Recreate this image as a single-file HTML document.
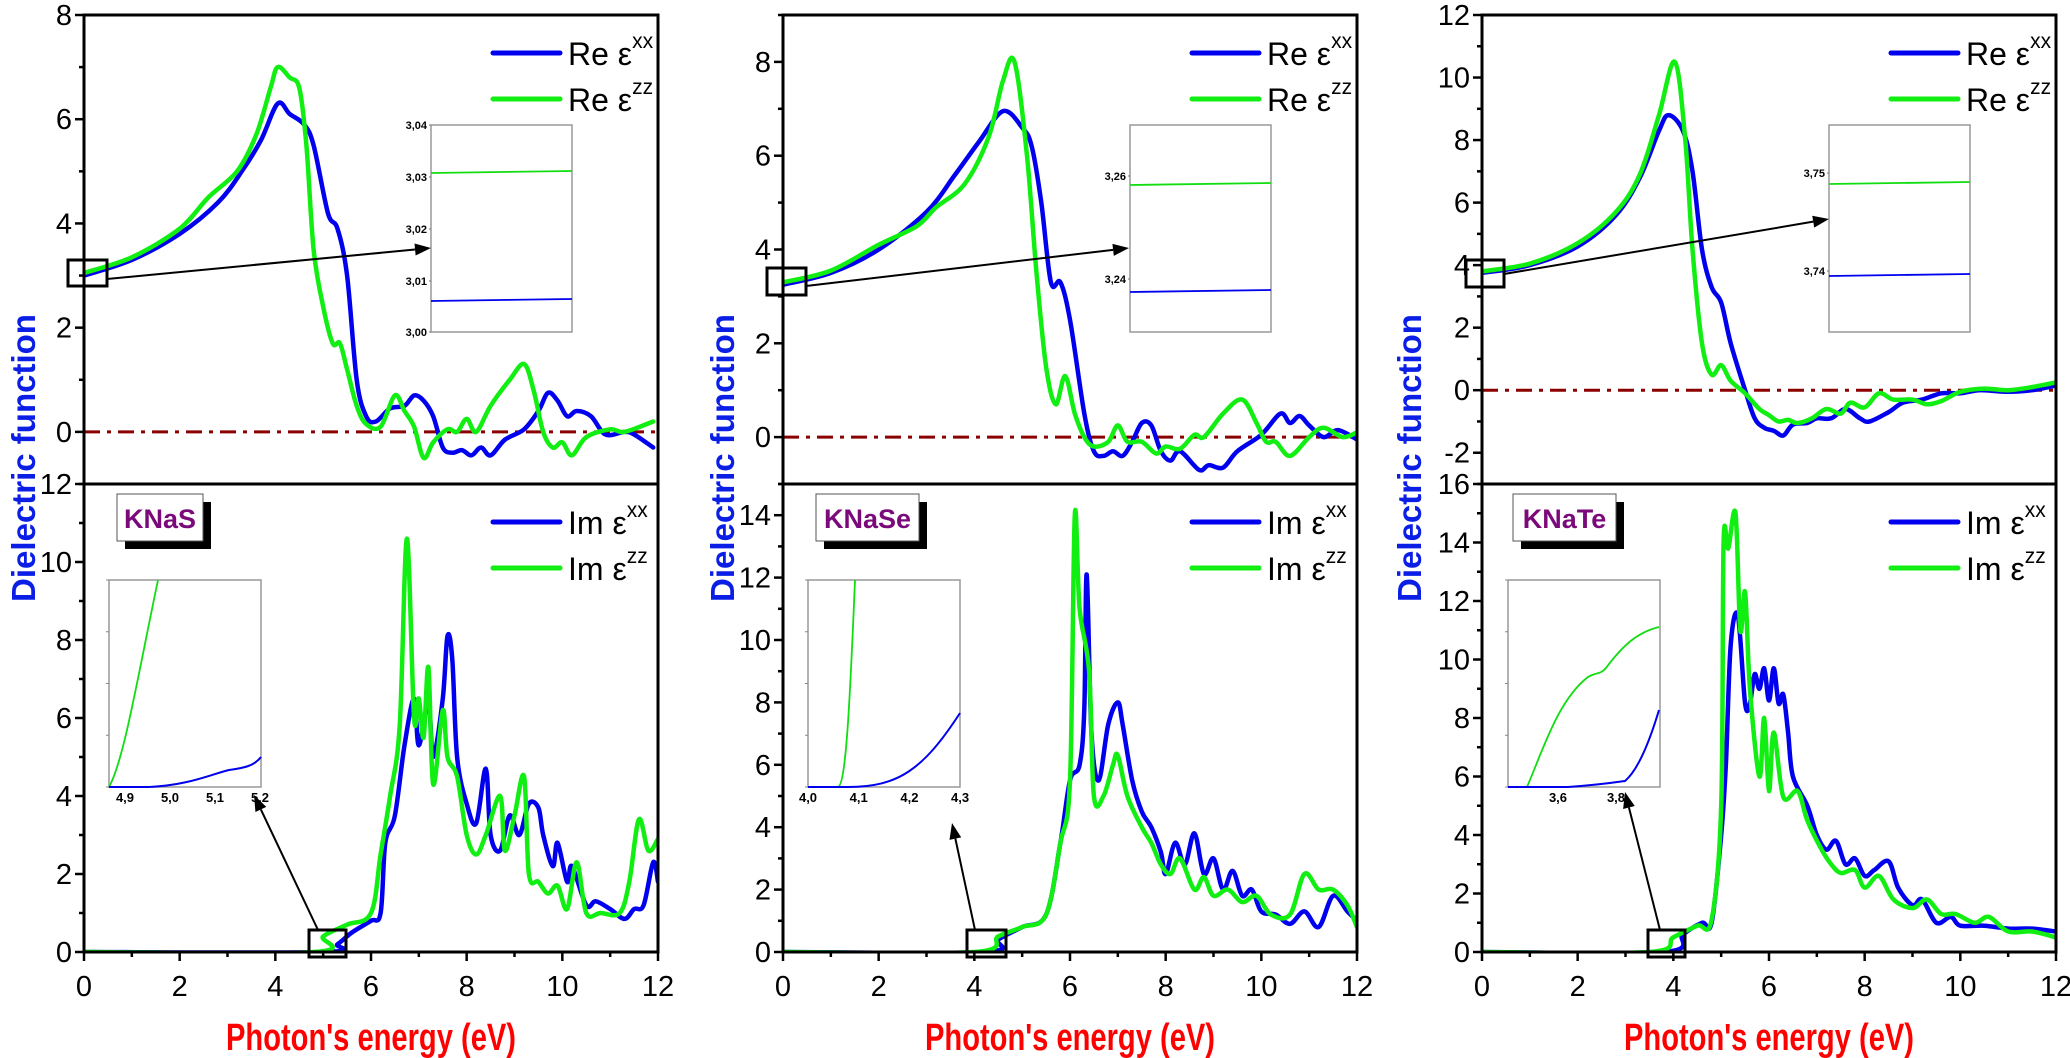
<!DOCTYPE html>
<html><head><meta charset="utf-8"><style>
html,body{margin:0;padding:0;background:#fff;}
svg{display:block;}
text{font-family:"Liberation Sans Narrow","Liberation Sans",sans-serif;}
</style></head><body>
<svg id="s" width="2070" height="1058" xmlns="http://www.w3.org/2000/svg"></svg>
<script>
const S=document.getElementById('s');
let h='';
const W=574, TT=15, MID=484, BB=952;
const P=[
{x0:84,tmin:-1,tmax:8,tt:[0,2,4,6,8],bmin:0,bmax:12,bt:[0,2,4,6,8,10,12],name:'KNaS',yl:24,
 rb:[[0,3.0],[1,3.3],[2,3.8],[2.8,4.4],[3.3,5.0],[3.7,5.6],[4.05,6.3],[4.3,6.1],[4.6,5.9],[4.8,5.5],[5.1,4.2],[5.3,3.9],[5.5,3.0],[5.7,1.0],[5.9,0.3],[6.1,0.2],[6.4,0.45],[6.7,0.5],[6.9,0.7],[7.1,0.6],[7.3,0.3],[7.5,-0.3],[7.7,-0.4],[7.9,-0.35],[8.1,-0.45],[8.3,-0.3],[8.5,-0.45],[8.8,-0.15],[9.2,0.05],[9.5,0.4],[9.7,0.75],[9.9,0.6],[10.1,0.3],[10.3,0.4],[10.6,0.3],[10.9,-0.05],[11.3,0.0],[11.5,-0.05],[11.9,-0.3]],
 rg:[[0,3.05],[1,3.35],[2,3.9],[2.6,4.5],[3.2,5.0],[3.6,5.7],[3.9,6.6],[4.05,7.0],[4.3,6.8],[4.5,6.6],[4.65,5.5],[4.8,3.5],[5.0,2.4],[5.2,1.7],[5.35,1.7],[5.5,1.2],[5.7,0.5],[5.9,0.15],[6.2,0.1],[6.5,0.7],[6.7,0.4],[6.9,0.1],[7.1,-0.5],[7.3,-0.2],[7.6,0.05],[7.8,0.0],[8.0,0.25],[8.2,0.0],[8.5,0.5],[8.9,1.0],[9.2,1.3],[9.4,0.8],[9.6,0.0],[9.8,-0.3],[10.0,-0.2],[10.2,-0.45],[10.5,-0.1],[11.0,0.05],[11.3,0.0],[11.9,0.2]],
 ib:[[0,0],[5.0,0],[5.3,0.2],[5.6,0.5],[6.0,0.8],[6.2,1.0],[6.3,2.8],[6.5,3.5],[6.7,5.3],[6.9,6.5],[7.0,5.3],[7.2,6.4],[7.3,5.0],[7.5,6.5],[7.6,8.1],[7.7,7.5],[7.8,5.0],[8.0,3.8],[8.2,3.3],[8.4,4.7],[8.5,3.0],[8.7,2.6],[8.9,3.5],[9.1,3.0],[9.3,3.8],[9.5,3.7],[9.6,3.0],[9.8,2.2],[9.9,2.8],[10.1,1.8],[10.2,2.2],[10.5,1.2],[10.7,1.3],[11.0,1.1],[11.3,0.85],[11.5,1.1],[11.7,1.2],[11.9,2.3],[12,1.8]],
 ig:[[0,0],[4.8,0],[5.0,0.4],[5.5,0.7],[6.0,1.0],[6.2,2.5],[6.4,4.0],[6.6,5.8],[6.75,10.6],[6.9,6.0],[7.0,6.5],[7.1,5.5],[7.2,7.3],[7.3,4.3],[7.5,6.2],[7.6,5.0],[7.8,4.5],[8.0,3.0],[8.2,2.5],[8.4,3.0],[8.7,4.0],[8.8,2.6],[9.0,3.5],[9.2,4.5],[9.3,2.0],[9.5,1.8],[9.7,1.5],[9.9,1.7],[10.1,1.1],[10.3,2.3],[10.5,1.0],[10.8,1.0],[11.2,1.0],[11.4,1.8],[11.6,3.4],[11.8,2.6],[12,2.9]],
 insT:{labels:[['3,04',125],['3,03',177],['3,02',229],['3,01',281],['3,00',332]],g:172,b:300},
 zb:[68,260,39,26],ar:[107,279,431,248],
 zb2:[309,930,37,27],ar2:[318,930,254,795],
 insB:{xl:['4,9','5,0','5,1','5,2'],g:'M 0 207 C 15 180, 28 100, 49 0',b:'M 0 207 L 40 207 C 80 205, 100 195, 120 190 C 135 188, 145 186, 152 177'}
},
{x0:783,tmin:-1,tmax:9,tt:[0,2,4,6,8],bmin:0,bmax:15,bt:[0,2,4,6,8,10,12,14],name:'KNaSe',yl:723,
 rb:[[0,3.25],[1,3.5],[2,4.0],[3,4.8],[3.6,5.6],[4.1,6.3],[4.6,6.95],[5.0,6.6],[5.2,6.2],[5.4,5.0],[5.6,3.3],[5.8,3.3],[6.0,2.5],[6.3,0.5],[6.5,-0.3],[6.7,-0.4],[6.9,-0.3],[7.1,-0.4],[7.3,-0.1],[7.5,0.3],[7.7,0.25],[7.9,-0.3],[8.1,-0.5],[8.3,-0.3],[8.7,-0.7],[8.9,-0.6],[9.2,-0.65],[9.5,-0.3],[10.0,0.05],[10.4,0.5],[10.6,0.3],[10.8,0.45],[11.0,0.25],[11.3,0.0],[11.6,0.15],[12,-0.05]],
 rg:[[0,3.3],[1,3.55],[2,4.1],[2.8,4.5],[3.2,4.9],[3.8,5.4],[4.3,6.4],[4.6,7.6],[4.84,8.0],[5.1,6.0],[5.3,3.5],[5.5,1.5],[5.7,0.7],[5.9,1.3],[6.1,0.5],[6.3,0.0],[6.5,-0.2],[6.8,-0.1],[7.0,0.25],[7.2,-0.1],[7.5,-0.1],[7.8,-0.35],[8.0,-0.2],[8.3,-0.25],[8.6,0.05],[8.8,0.0],[9.2,0.5],[9.6,0.8],[9.9,0.3],[10.1,-0.1],[10.3,-0.1],[10.6,-0.4],[11.0,0.0],[11.3,0.2],[11.7,0.0],[12,0.1]],
 ib:[[0,0],[4.2,0],[4.5,0.4],[5.0,0.8],[5.5,1.2],[5.8,3.5],[6.0,5.5],[6.2,6.0],[6.3,7.8],[6.35,12.1],[6.45,7.0],[6.6,5.5],[6.8,7.3],[7.0,8.0],[7.1,7.3],[7.3,5.5],[7.5,4.5],[7.7,4.0],[7.9,3.2],[8.0,2.5],[8.2,3.5],[8.4,2.8],[8.6,3.8],[8.8,2.5],[9.0,3.0],[9.2,2.0],[9.4,2.6],[9.6,1.8],[9.8,2.0],[10.0,1.3],[10.3,1.2],[10.6,0.9],[10.9,1.3],[11.2,0.8],[11.5,1.8],[11.8,1.3],[12,1.0]],
 ig:[[0,0],[4.0,0],[4.5,0.5],[5.0,0.8],[5.5,1.2],[5.8,3.5],[6.0,5.5],[6.1,14.0],[6.2,11.0],[6.4,9.0],[6.5,5.0],[6.7,5.0],[6.9,6.0],[7.0,6.3],[7.2,5.0],[7.5,4.0],[7.7,3.5],[7.9,2.8],[8.1,2.5],[8.3,3.0],[8.6,2.0],[8.8,2.4],[9.0,1.8],[9.3,2.0],[9.6,1.6],[9.9,1.8],[10.2,1.2],[10.6,1.2],[10.9,2.5],[11.2,2.0],[11.5,2.0],[11.8,1.5],[12,0.8]],
 insT:{labels:[['3,26',176],['3,24',279]],g:184,b:291},
 zb:[767,268,39,27],ar:[806,286,1129,248],
 zb2:[967,930,39,27],ar2:[975,930,952,823],
 insB:{xl:['4,0','4,1','4,2','4,3'],g:'M 0 207 L 30 207 C 38 205, 42 120, 47 0',b:'M 0 207 L 40 207 C 90 207, 115 190, 152 133'}
},
{x0:1482,tmin:-3,tmax:12,tt:[-2,0,2,4,6,8,10,12],bmin:0,bmax:16,bt:[0,2,4,6,8,10,12,14,16],name:'KNaTe',yl:1410,
 rb:[[0,3.75],[1,4.0],[2,4.6],[2.8,5.6],[3.3,6.8],[3.7,8.3],[3.9,8.8],[4.2,8.3],[4.4,7.0],[4.6,4.5],[4.8,3.3],[5.0,2.8],[5.2,1.5],[5.5,0.0],[5.7,-0.9],[5.9,-1.2],[6.1,-1.3],[6.3,-1.45],[6.5,-1.1],[6.8,-1.05],[7.0,-0.9],[7.3,-0.9],[7.6,-0.6],[7.9,-0.9],[8.1,-1.0],[8.5,-0.7],[8.8,-0.4],[9.2,-0.3],[9.6,-0.1],[10.0,-0.1],[10.4,0.0],[11.0,-0.05],[11.5,0.0],[12,0.15]],
 rg:[[0,3.8],[1,4.05],[2,4.7],[2.8,5.7],[3.3,6.9],[3.7,8.8],[4.03,10.5],[4.25,8.0],[4.4,4.5],[4.6,1.5],[4.8,0.5],[5.0,0.8],[5.2,0.3],[5.5,-0.1],[5.8,-0.6],[6.0,-0.8],[6.2,-1.0],[6.4,-0.95],[6.6,-1.05],[6.9,-0.9],[7.2,-0.6],[7.5,-0.75],[7.7,-0.4],[8.0,-0.55],[8.3,-0.1],[8.6,-0.3],[9.0,-0.3],[9.3,-0.45],[9.6,-0.35],[10.0,-0.05],[10.5,0.05],[11.0,0.0],[11.5,0.1],[12,0.25]],
 ib:[[0,0],[3.8,0],[4.2,0.6],[4.6,1.0],[4.8,1.0],[5.0,4.0],[5.1,6.5],[5.2,10.5],[5.35,11.5],[5.5,8.5],[5.6,8.5],[5.7,9.5],[5.8,9.0],[5.9,9.7],[6.0,8.6],[6.1,9.7],[6.2,8.5],[6.3,8.8],[6.4,7.5],[6.5,6.0],[6.8,5.0],[7.0,4.0],[7.2,3.5],[7.4,3.8],[7.6,3.0],[7.8,3.2],[8.0,2.6],[8.2,2.8],[8.5,3.1],[8.7,2.2],[9.0,1.6],[9.2,1.8],[9.5,1.0],[9.8,1.2],[10.0,0.9],[10.5,0.9],[11.0,0.8],[11.5,0.8],[12,0.7]],
 ig:[[0,0],[3.5,0],[4.0,0.5],[4.5,0.9],[4.8,1.1],[5.0,5.0],[5.05,14.0],[5.15,13.8],[5.3,15.0],[5.4,11.0],[5.5,12.3],[5.6,9.0],[5.8,6.0],[5.9,8.0],[6.0,5.5],[6.1,7.5],[6.3,5.3],[6.6,5.5],[6.8,4.5],[7.1,3.5],[7.3,3.0],[7.5,2.7],[7.8,2.8],[8.0,2.2],[8.3,2.6],[8.6,1.8],[9.0,1.5],[9.3,1.8],[9.6,1.3],[9.9,1.3],[10.3,1.0],[10.6,1.2],[11.0,0.7],[11.5,0.7],[12,0.5]],
 insT:{labels:[['3,75',173],['3,74',271]],g:183,b:275},
 zb:[1466,260,38,27],ar:[1504,274,1829,219],
 zb2:[1648,930,37,27],ar2:[1660,930,1625,792],
 insB:{xl:['3,6','3,8'],g:'M 0 207 L 19 207 C 35 170, 50 120, 80 97 C 88 92, 92 95, 98 88 C 115 65, 130 52, 151 47',b:'M 0 207 L 60 207 C 90 205, 110 202, 117 201 C 130 190, 142 160, 151 130'}
}];
function smooth(pts){let d='M'+pts[0][0].toFixed(1)+' '+pts[0][1].toFixed(1);
 for(let i=0;i<pts.length-1;i++){const p0=pts[i-1]||pts[i],p1=pts[i],p2=pts[i+1],p3=pts[i+2]||p2;
  const c1=[p1[0]+(p2[0]-p0[0])/6,p1[1]+(p2[1]-p0[1])/6],c2=[p2[0]-(p3[0]-p1[0])/6,p2[1]-(p3[1]-p1[1])/6];
  d+=' C'+c1[0].toFixed(1)+' '+c1[1].toFixed(1)+','+c2[0].toFixed(1)+' '+c2[1].toFixed(1)+','+p2[0].toFixed(1)+' '+p2[1].toFixed(1);}
 return d;}
function poly(pts,c,w,f){return '<path d="'+smooth(pts.map(f))+'" fill="none" stroke="'+c+'" stroke-width="'+w+'" stroke-linejoin="round" stroke-linecap="round"/>';}
function arrow(x1,y1,x2,y2){const a=Math.atan2(y2-y1,x2-x1),L=16,wd=6;
 const bx=x2-L*Math.cos(a),by=y2-L*Math.sin(a);
 return '<line x1="'+x1+'" y1="'+y1+'" x2="'+bx+'" y2="'+by+'" stroke="#000" stroke-width="2"/>'+
 '<polygon points="'+x2+','+y2+' '+(bx+wd*Math.sin(a))+','+(by-wd*Math.cos(a))+' '+(bx-wd*Math.sin(a))+','+(by+wd*Math.cos(a))+'" fill="#000"/>';}
P.forEach(p=>{
 const x0=p.x0,x1=x0+W;
 const X=e=>x0+e*W/12;
 const YT=v=>MID-(v-p.tmin)*(MID-TT)/(p.tmax-p.tmin);
 const YB=v=>BB-(v-p.bmin)*(BB-MID)/(p.bmax-p.bmin);
 h+='<line x1="'+x0+'" y1="'+YT(0)+'" x2="'+x1+'" y2="'+YT(0)+'" stroke="#8B0000" stroke-width="3" stroke-dasharray="16 7 4 7"/>';
 h+='<svg x="'+x0+'" y="'+TT+'" width="'+W+'" height="'+(BB-TT)+'" overflow="hidden"><g transform="translate('+(-x0)+','+(-TT)+')">';
 h+=poly(p.rb,'#0000ee',4.5,q=>[X(q[0]),YT(q[1])]);
 h+=poly(p.rg,'#11ee11',4.5,q=>[X(q[0]),YT(q[1])]);
 h+=poly(p.ib,'#0000ee',4.5,q=>[X(q[0]),YB(q[1])]);
 h+=poly(p.ig,'#11ee11',4.5,q=>[X(q[0]),YB(q[1])]);
 h+='</g></svg>';
 h+='<rect x="'+x0+'" y="'+TT+'" width="'+W+'" height="'+(BB-TT)+'" fill="none" stroke="#000" stroke-width="3"/>';
 h+='<line x1="'+x0+'" y1="'+MID+'" x2="'+x1+'" y2="'+MID+'" stroke="#000" stroke-width="3"/>';
 for(let v=Math.ceil(p.tmin);v<=p.tmax;v++){const y=YT(v);const maj=p.tt.includes(v);
  h+='<line x1="'+(x0-(maj?9:5))+'" y1="'+y+'" x2="'+x0+'" y2="'+y+'" stroke="#000" stroke-width="2.5"/>';
  if(maj)h+='<text x="'+(x0-12)+'" y="'+(y+10)+'" font-size="29" text-anchor="end">'+(v<0?'-'+(-v):v)+'</text>';}
 for(let v=p.bmin;v<=p.bmax;v++){const y=YB(v);const maj=p.bt.includes(v);
  h+='<line x1="'+(x0-(maj?9:5))+'" y1="'+y+'" x2="'+x0+'" y2="'+y+'" stroke="#000" stroke-width="2.5"/>';
  if(maj)h+='<text x="'+(x0-12)+'" y="'+(y+10)+'" font-size="29" text-anchor="end">'+v+'</text>';}
 for(let e=0;e<=12;e++){const x=X(e);const maj=e%2==0;
  h+='<line x1="'+x+'" y1="'+BB+'" x2="'+x+'" y2="'+(BB+(maj?9:5))+'" stroke="#000" stroke-width="2.5"/>';
  if(maj)h+='<text x="'+x+'" y="'+996+'" font-size="29" text-anchor="middle">'+e+'</text>';}
 const lg=(y,lab,sup,c)=>{h+='<line x1="'+(x1-165)+'" y1="'+y+'" x2="'+(x1-98)+'" y2="'+y+'" stroke="'+c+'" stroke-width="5" stroke-linecap="round"/>';
  h+='<text x="'+(x1-90)+'" y="'+(y+12)+'" font-size="32">'+lab+' ε<tspan font-size="21" dy="-17">'+sup+'</tspan></text>';};
 lg(53,'Re','xx','#0000ee');lg(99,'Re','zz','#11ee11');
 lg(522,'Im','xx','#0000ee');lg(568,'Im','zz','#11ee11');
 const ix=x0+347;
 h+='<rect x="'+ix+'" y="125" width="141" height="207" fill="#fff" stroke="#999" stroke-width="1.5"/>';
 p.insT.labels.forEach(l=>{h+='<text x="'+(ix-4)+'" y="'+(l[1]+4)+'" font-size="11" font-weight="bold" text-anchor="end">'+l[0]+'</text><line x1="'+(ix-2)+'" y1="'+l[1]+'" x2="'+ix+'" y2="'+l[1]+'" stroke="#777"/>';});
 h+='<line x1="'+ix+'" y1="'+(p.insT.g+1)+'" x2="'+(ix+141)+'" y2="'+(p.insT.g-1)+'" stroke="#11dd11" stroke-width="1.8"/>';
 h+='<line x1="'+ix+'" y1="'+(p.insT.b+1)+'" x2="'+(ix+141)+'" y2="'+(p.insT.b-1)+'" stroke="#0000ee" stroke-width="1.8"/>';
 const z=p.zb;h+='<rect x="'+z[0]+'" y="'+z[1]+'" width="'+z[2]+'" height="'+z[3]+'" fill="none" stroke="#000" stroke-width="3"/>';
 h+=arrow(...p.ar);
 const z2=p.zb2;h+='<rect x="'+z2[0]+'" y="'+z2[1]+'" width="'+z2[2]+'" height="'+z2[3]+'" fill="none" stroke="#000" stroke-width="3"/>';
 h+=arrow(...p.ar2);
 const bx=x0+(p.name=='KNaTe'?26:25),by=580;
 h+='<rect x="'+bx+'" y="'+by+'" width="152" height="207" fill="#fff" stroke="#999" stroke-width="1.5"/>';
 h+='<g transform="translate('+bx+','+by+')"><path d="'+p.insB.g+'" fill="none" stroke="#11dd11" stroke-width="1.8"/><path d="'+p.insB.b+'" fill="none" stroke="#0000ee" stroke-width="2"/>';
 const n=p.insB.xl.length;
 p.insB.xl.forEach((t,i)=>{const xx=n==4?(p.name=='KNaS'?16+i*45:i*50.7):(50+i*58);h+='<text x="'+xx+'" y="222" font-size="13" font-weight="bold" text-anchor="middle">'+t+'</text>';});
 for(let k=0;k<=4;k++)h+='<line x1="-3" y1="'+(k*51.75)+'" x2="0" y2="'+(k*51.75)+'" stroke="#888"/>';
 h+='</g>';
 const nb=x0+(p.name=='KNaTe'?31:33),nw=p.name=='KNaS'?86:103;
 h+='<rect x="'+(nb+8)+'" y="502" width="'+nw+'" height="47" fill="#000"/>';
 h+='<rect x="'+nb+'" y="494" width="'+nw+'" height="47" fill="#fff" stroke="#555" stroke-width="1"/>';
 h+='<text x="'+(nb+nw/2)+'" y="528" font-size="27" font-weight="bold" fill="#7a0a7a" text-anchor="middle" style="font-family:\'Liberation Sans\',sans-serif">'+p.name+'</text>';
 h+='<text transform="translate('+(p.yl+11)+',458) rotate(-90)" font-size="33" font-weight="bold" fill="#0a1ee6" text-anchor="middle" style="font-family:\'Liberation Sans\',sans-serif">Dielectric function</text>';
 h+='<text x="'+((x0+x1)/2)+'" y="1050" font-size="38" font-weight="bold" fill="#ff0000" text-anchor="middle" textLength="290" lengthAdjust="spacingAndGlyphs">Photon\'s energy (eV)</text>';
});
S.innerHTML=h;
</script>
</body></html>
